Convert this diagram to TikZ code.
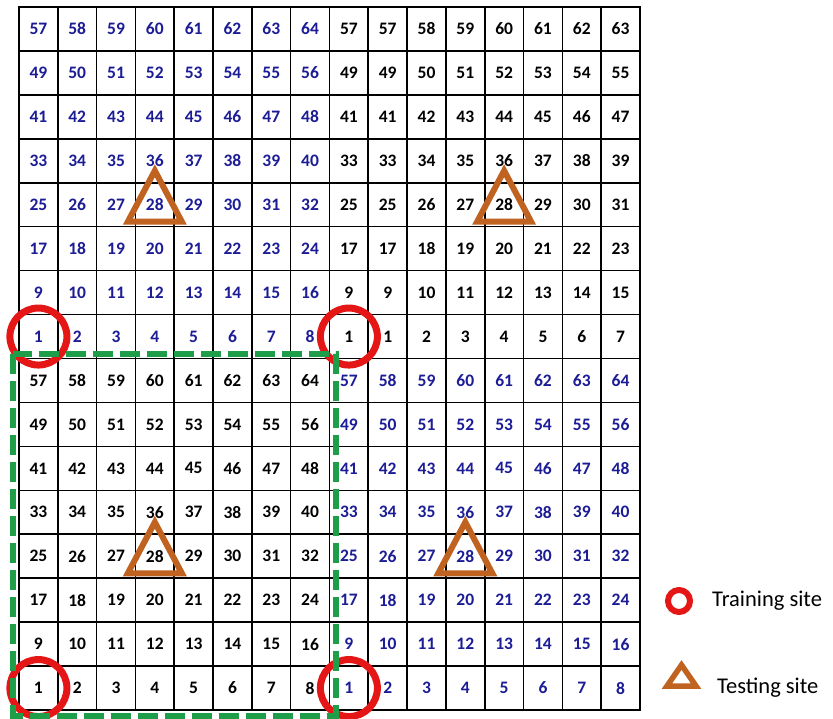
\documentclass[tikz,border=0pt]{standalone}
\usepackage{fontspec}
\setmainfont{Carlito}
\usetikzlibrary{calc}
\definecolor{numblue}{RGB}{28,28,150}
\definecolor{trainred}{RGB}{228,22,22}
\definecolor{testbrown}{RGB}{192,98,32}
\definecolor{boxgreen}{RGB}{30,158,72}
\tikzset{
  cell/.style={draw=black, line width=1.6pt, minimum width=38.81pt, minimum height=43.94pt, inner sep=0pt,
    font=\bfseries\fontsize{17.5}{19}\selectfont},
  trainmark/.style={circle, draw=trainred, line width=7pt, minimum size=57pt, inner sep=0pt},
  legtrain/.style={circle, draw=trainred, line width=6pt, minimum size=22pt, inner sep=0pt},
  testmark/.style={draw=testbrown, line width=6pt, line join=miter},
  greenbox/.style={draw=boxgreen, line width=6.5pt, dash pattern=on 20pt off 7pt},
  legtext/.style={anchor=west, inner sep=0pt, font=\fontsize{22.5}{26}\selectfont}
}
\begin{document}
\begin{tikzpicture}[x=1pt,y=-1pt]
\useasboundingbox (0,0) rectangle (833,719);
\fill[white] (0,0) rectangle (833,719);
\def\gx{19}\def\gy{7}\def\cw{38.81}\def\ch{43.94}
\foreach \r in {1,...,16}{
  \foreach \c in {1,...,16}{
    \pgfmathtruncatemacro\lr{mod(\r-1,8)}
    \pgfmathtruncatemacro\lc{mod(\c-1,8)}
    \pgfmathtruncatemacro\base{57-8*\lr}
    \pgfmathtruncatemacro\istop{\r<9}
    \pgfmathtruncatemacro\isleft{\c<9}
    \pgfmathtruncatemacro\tr{\istop*(1-\isleft)}
    \pgfmathtruncatemacro\val{\base+\lc-\tr*(\lc>0)}
    \pgfmathtruncatemacro\isblue{\istop==\isleft}
    \ifnum\isblue=1 \def\tc{numblue}\else\def\tc{black}\fi
    \node[cell, text=\tc] (c-\r-\c) at ({\gx+(\c-0.5)*\cw},{\gy+(\r-0.5)*\ch}) {\val};
  }
}
% testing sites (triangles) over cells with 28
\foreach \r/\c [count=\i] in {5/4, 5/13, 13/4, 13/12}{
  \draw[testmark] ($(c-\r-\c.center)+(0,-34)$) coordinate (ta\i)
     -- ($(c-\r-\c.center)+(27,17)$) coordinate (tb\i)
     -- ($(c-\r-\c.center)+(-27,17)$) coordinate (tc\i) -- cycle;
}
% training sites (circles)
\node[trainmark] (tr1) at (c-8-1) {};
\node[trainmark] (tr2) at (c-8-9) {};
\node[trainmark] (tr3) at (c-16-1) {};
\node[trainmark] (tr4) at (c-16-9) {};
% green dashed box round the bottom-left block
\draw[greenbox] ($(c-9-1.north west)+(-5,-3.5)$) coordinate (gA) rectangle ($(c-16-8.south east)+(5.5,5)$) coordinate (gB);
% legend
\node[legtrain] (lc) at (679,601) {};
\node[legtext] (lt) at (712,601) {Training site};
\coordinate (lta) at (681.5,665);
\draw[testmark, line width=5.5pt] (lta) -- (696,686) coordinate (ltb) -- (667,686) coordinate (ltc) -- cycle;
\node[legtext] (ls) at (717,688) {Testing site};
\end{tikzpicture}
\end{document}
